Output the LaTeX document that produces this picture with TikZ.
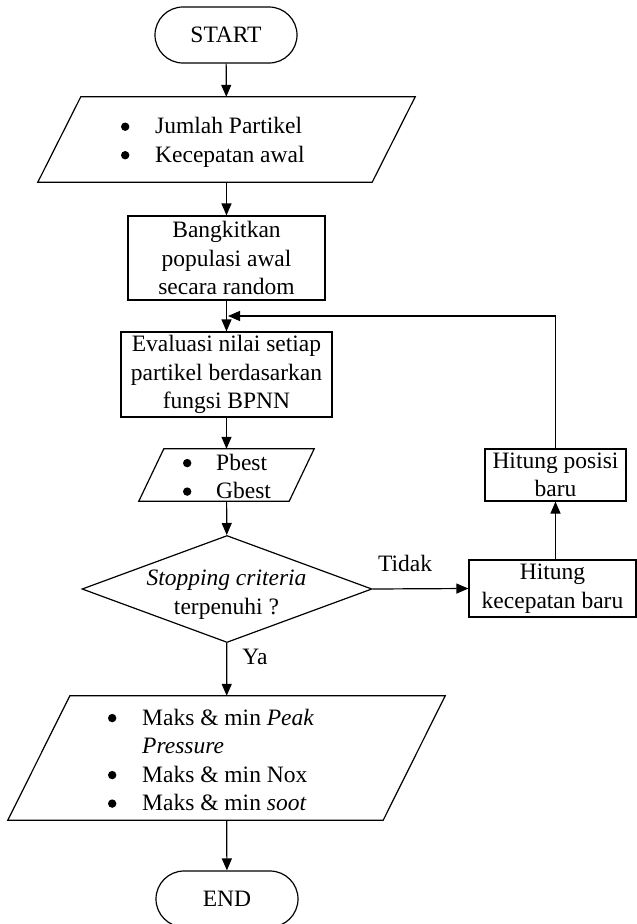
\documentclass[tikz,border=0pt]{standalone}
\usepackage{fontspec}
\setmainfont{Liberation Serif}
\usetikzlibrary{shapes.geometric,arrows.meta,calc}

\tikzset{
  base/.style={line width=1.2pt},
  terminal/.style={base, draw, rounded corners=28pt, minimum width=142pt, minimum height=56pt, inner sep=0pt},
  procbox/.style={base, draw, align=center, inner sep=0pt},
  slanted/.style={inner sep=0pt},
  decision/.style={base, draw, diamond, inner sep=0pt, minimum width=290pt, minimum height=107pt},
  flow/.style={base, -{Triangle[length=12pt,width=10pt]}},
  listtext/.style={anchor=west, align=left, inner sep=0pt},
  lbl/.style={inner sep=0pt}
}

% draws a parallelogram around a node, top edge shifted right by #2
\newcommand{\paradraw}[2]{%
  \draw[base] ([xshift=#2]#1.north west) -- ([xshift=#2]#1.north east)
    -- ([xshift=-#2]#1.south east) -- ([xshift=-#2]#1.south west) -- cycle;}
% round list bullet in a box of the given width
\newcommand{\blt}[1]{\makebox[#1][l]{\raisebox{3pt}{\tikz\fill (0,0) circle (4.2pt);}}}

\begin{document}
\begin{tikzpicture}[x=1pt,y=-1pt]
\fontsize{23.5}{28.5}\selectfont
\clip (0,0) rectangle (637,924);

% main column
\node[terminal] (start) at (226,35) {START};

\node[slanted, minimum width=334pt, minimum height=85pt] (in1) at (226.5,139.5) {};
\paradraw{in1}{21.5pt}
\node[listtext] (in1txt) at (120.8,142.5)
  {\blt{34.2pt}Jumlah Partikel\\ \blt{34.2pt}Kecepatan awal};

\node[procbox, minimum width=197pt, minimum height=84pt] (bang) at (226.5,258)
  {Bangkitkan\\populasi awal\\secara random};

\node[procbox, minimum width=211pt, minimum height=85pt] (eval) at (226.5,374.5)
  {Evaluasi nilai setiap\\partikel berdasarkan\\fungsi BPNN};

\node[slanted, minimum width=150pt, minimum height=52pt] (best) at (226.5,475) {};
\paradraw{best}{12.5pt}
\node[listtext] (besttxt) at (182.8,476.5)
  {\blt{33.2pt}Pbest\\ \blt{33.2pt}Gbest};

\node[decision] (dec) at (227,589) {};
\node[lbl, align=center] (dectxt) at (226.5,594.5)
  {\textit{Stopping criteria}\\terpenuhi ?};

\node[slanted, minimum width=375pt, minimum height=124pt] (out) at (226.5,758) {};
\paradraw{out}{31pt}
\node[listtext] (outtxt) at (107.8,760)
  {\blt{34.2pt}Maks \& min \textit{Peak}\\
   \hspace*{34.2pt}\textit{Pressure}\\
   \blt{34.2pt}Maks \& min Nox\\
   \blt{34.2pt}Maks \& min \textit{soot}};

\node[terminal] (end) at (227,899) {END};

% side loop
\node[procbox, minimum width=167pt, minimum height=57pt] (kec) at (552.5,588.5)
  {Hitung\\kecepatan baru};
\node[procbox, minimum width=141pt, minimum height=52pt] (pos) at (555.5,475)
  {Hitung posisi\\baru};

\coordinate (fb) at ($(bang.south)!0.5!(eval.north)+(1.5,0)$);

% connectors
\draw[flow] (start) -- (in1);
\draw[flow] (in1) -- (bang);
\draw[flow] (bang) -- (eval);
\draw[flow] (eval) -- (best);
\draw[flow] (best) -- (dec);
\draw[flow] (dec) -- (out);
\node[lbl] (ya) at (255,657) {Ya};
\draw[flow] (out) -- (end);
\draw[flow] (dec.east) -- (kec.west);
\node[lbl] (tidak) at (405,563) {Tidak};
\draw[flow] (kec.north -| pos.south) -- (pos.south);
\draw[flow] (pos.north) |- (fb);
\end{tikzpicture}
\end{document}
